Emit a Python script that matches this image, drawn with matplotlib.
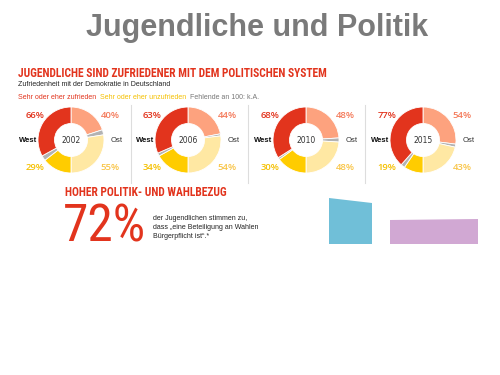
import numpy as np
import matplotlib
matplotlib.use('Agg')
import matplotlib.pyplot as plt
from matplotlib.patches import Polygon

# data
years = ['2002', '2006', '2010', '2015']
west_zufrieden = [66, 63, 68, 77]
west_unzufrieden = [29, 34, 30, 19]
ost_zufrieden = [40, 44, 48, 54]
ost_unzufrieden = [55, 54, 48, 43]

# decorative shapes at the bottom right (pixel coords)
blue_shape = [(329, 198), (372, 203), (372, 244), (329, 244)]
purple_shape = [(390, 220), (478, 219), (478, 244), (390, 244)]

# colours
RED = '#e2341d'
SALMON = '#fda27e'
YELLOW = '#ffcc00'
LIGHTYELLOW = '#ffe8a3'
GRAY = '#b3b3b3'
narrow = ['Liberation Sans Narrow', 'Roboto Condensed', 'Liberation Sans']

W, H = 500, 375
fig = plt.figure(figsize=(5, 3.75), dpi=100)
ax = fig.add_axes([0, 0, 1, 1])
ax.set_xlim(0, W)
ax.set_ylim(H, 0)
ax.axis('off')

ax.text(257, 36, 'Jugendliche und Politik', fontsize=22, fontweight='bold',
        color='#7a7a7a', family='Liberation Sans', ha='center', va='baseline')

ax.text(18, 77, 'JUGENDLICHE SIND ZUFRIEDENER MIT DEM POLITISCHEN SYSTEM',
        fontsize=8.3, fontweight='bold', color=RED, family=narrow, va='baseline')
ax.text(18, 86, 'Zufriedenheit mit der Demokratie in Deutschland', fontsize=5,
        color='#222222', family='Liberation Sans', va='baseline')
ax.text(18, 99, 'Sehr oder eher zufrieden', fontsize=5, color=RED,
        family='Liberation Sans', va='baseline')
ax.text(100, 99, 'Sehr oder eher unzufrieden', fontsize=5, color='#f5c000',
        family='Liberation Sans', va='baseline')
ax.text(190, 99, 'Fehlende an 100: k.A.', fontsize=5, color='#777777',
        family='Liberation Sans', va='baseline')

# separators between donuts
for xs in [131, 248, 365]:
  ax.plot([xs, xs], [105, 183], color='#dddddd', lw=0.8)

centers = [71, 188, 306, 423]
cy = 140
r = 33
for i, cx in enumerate(centers):
  ws, wu = west_zufrieden[i], west_unzufrieden[i]
  os_, ou = ost_zufrieden[i], ost_unzufrieden[i]
  vals = [os_, 100 - os_ - ou, ou, wu, 100 - ws - wu, ws]
  cols = [SALMON, GRAY, LIGHTYELLOW, YELLOW, GRAY, RED]
  dax = fig.add_axes([(cx - r) / W, 1 - (cy + r) / H, 2 * r / W, 2 * r / H])
  dax.pie(vals, colors=cols, startangle=90, counterclock=False, radius=1,
          wedgeprops=dict(width=0.5, edgecolor='white', linewidth=0.6))
  dax.set_xlim(-1, 1)
  dax.set_ylim(-1, 1)
  dax.axis('off')
  dax.text(0, 0, years[i], ha='center', va='center', fontsize=5.5, color='#333333')

  lbl = dict(fontsize=6.8, fontweight='semibold', family='Open Sans',
             ha='center', va='center')
  ax.text(cx - 36, 116, '%d%%' % ws, color=RED, **lbl)
  ax.text(cx + 39, 116, '%d%%' % os_, color='#f47a5a', **lbl)
  ax.text(cx - 36, 167, '%d%%' % wu, color='#f5c000', **lbl)
  ax.text(cx + 39, 167, '%d%%' % ou, color='#f9c548', **lbl)
  ax.text(cx - 34, 141, 'West', color='#111111', fontsize=5.5, fontweight='bold',
          family='Liberation Sans', ha='right', va='center')
  ax.text(cx + 40, 141, 'Ost', color='#333333', fontsize=5.5,
          family='Liberation Sans', ha='left', va='center')

# bottom section
ax.text(65, 196, 'HOHER POLITIK- UND WAHLBEZUG', fontsize=8.3, fontweight='bold',
        color=RED, family=narrow, va='baseline')
ax.text(63, 242, '72%', fontsize=37, color=RED, family=narrow, va='baseline')
ax.text(153, 220, 'der Jugendlichen stimmen zu,', fontsize=5, color='#222222',
        family='Liberation Sans', va='baseline')
ax.text(153, 229, 'dass \u201eeine Beteiligung an Wahlen', fontsize=5, color='#222222',
        family='Liberation Sans', va='baseline')
ax.text(153, 238, 'B\u00fcrgerpflicht ist\u201c.*', fontsize=5, color='#222222',
        family='Liberation Sans', va='baseline')

ax.add_patch(Polygon(blue_shape, closed=True, facecolor='#70bfd8', edgecolor='none'))
ax.add_patch(Polygon(purple_shape, closed=True, facecolor='#d1a8d3', edgecolor='none'))

fig.savefig('out.png', dpi=100)
plt.close()
